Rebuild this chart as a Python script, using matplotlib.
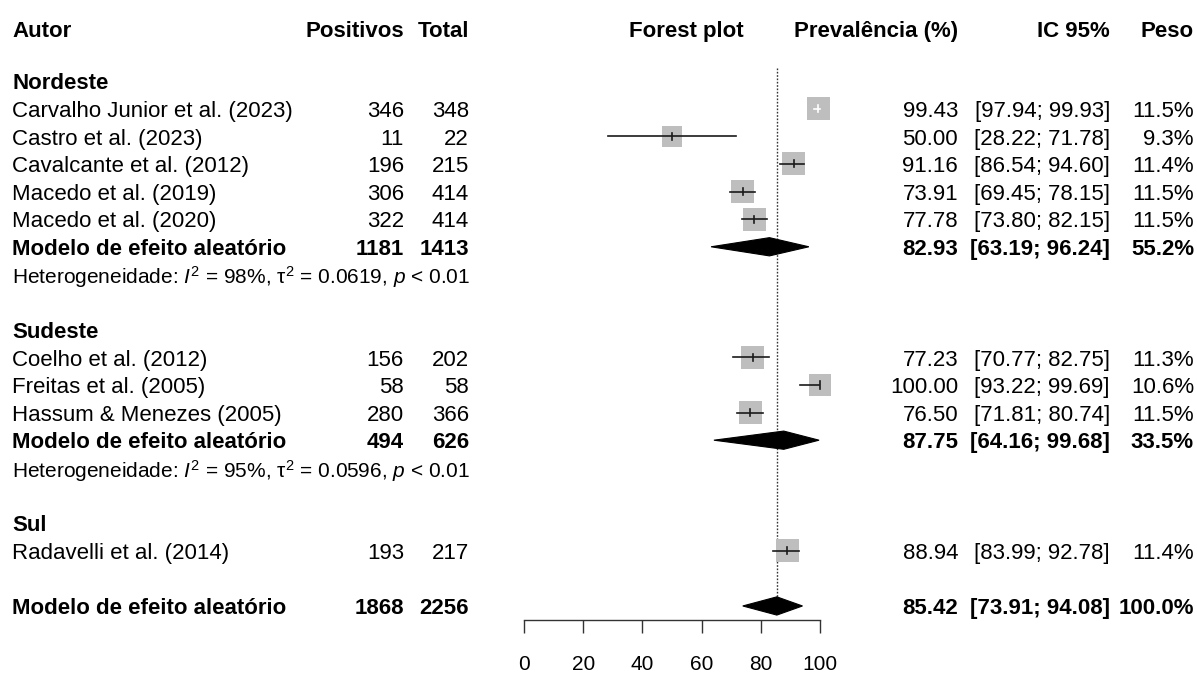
import matplotlib
matplotlib.use("Agg")
import matplotlib.pyplot as plt
import numpy as np
from matplotlib.transforms import blended_transform_factory
from matplotlib.patches import Polygon

plt.rcParams['font.family'] = ['Liberation Sans', 'DejaVu Sans']
plt.rcParams['mathtext.fontset'] = 'custom'
plt.rcParams['mathtext.rm'] = 'Liberation Sans'
plt.rcParams['mathtext.it'] = 'Liberation Sans:italic'
plt.rcParams['mathtext.bf'] = 'Liberation Sans:bold'

# ---------------- data ----------------
groups = ["Nordeste", "Sudeste", "Sul"]
study_group = ["Nordeste"] * 5 + ["Sudeste"] * 3 + ["Sul"]
authors = ["Carvalho Junior et al. (2023)", "Castro et al. (2023)", "Cavalcante et al. (2012)",
           "Macedo et al. (2019)", "Macedo et al. (2020)",
           "Coelho et al. (2012)", "Freitas et al. (2005)", "Hassum & Menezes (2005)",
           "Radavelli et al. (2014)"]
positives = [346, 11, 196, 306, 322, 156, 58, 280, 193]
totals = [348, 22, 215, 414, 414, 202, 58, 366, 217]
prev = [99.43, 50.00, 91.16, 73.91, 77.78, 77.23, 100.00, 76.50, 88.94]
ci_low = [97.94, 28.22, 86.54, 69.45, 73.80, 70.77, 93.22, 71.81, 83.99]
ci_high = [99.93, 71.78, 94.60, 78.15, 82.15, 82.75, 99.69, 80.74, 92.78]
weights = [11.5, 9.3, 11.4, 11.5, 11.5, 11.3, 10.6, 11.5, 11.4]

# pooled per subgroup (only groups with >1 study)
pooled_groups = ["Nordeste", "Sudeste"]
pooled_pos = [1181, 494]
pooled_tot = [1413, 626]
pooled_prev = [82.93, 87.75]
pooled_low = [63.19, 64.16]
pooled_high = [96.24, 99.68]
pooled_w = [55.2, 33.5]
het_I2 = ["98%", "95%"]
het_tau2 = ["0.0619", "0.0596"]
het_p = ["< 0.01", "< 0.01"]

overall_pos = 1868
overall_tot = 2256
overall_prev = 85.42
overall_low = 73.91
overall_high = 94.08
overall_w = "100.0%"

xticks = [0, 20, 40, 60, 80, 100]

# ---------------- figure ----------------
W, H = 1197, 673
fig = plt.figure(figsize=(W / 100, H / 100), dpi=100)
row_px = 27.63
first_px = 81
axis_px = 620
ax = fig.add_axes([524 / W, (H - axis_px) / H, 296 / W, axis_px / H])
ax.set_xlim(0, 100)
ax.set_ylim((axis_px - first_px) / row_px, -first_px / row_px)
for s in ["top", "right", "left"]:
    ax.spines[s].set_visible(False)
ax.spines["bottom"].set_bounds(0, 100)
ax.spines["bottom"].set_linewidth(1.0)
ax.spines["bottom"].set_color("#333333")
ax.set_yticks([])
ax.set_xticks(xticks)
ax.set_xticklabels([str(t) for t in xticks], fontsize=15)
ax.tick_params(axis="x", direction="out", length=9.5, width=1.0, color="#333333", pad=16)
ax.patch.set_alpha(0)

tr = blended_transform_factory(fig.transFigure, ax.transData)
FS = 16
FS_HET = 15
TXT_DY = 0.1


def col(xpx, y, s, ha="right", bold=False, size=FS):
    ax.text(xpx / W, y + TXT_DY, s, transform=tr, ha=ha, va="center", fontsize=size,
            fontweight="bold" if bold else "normal", clip_on=False)


header_y = (29 - first_px) / row_px
col(12, header_y, "Autor", ha="left", bold=True)
col(404, header_y, "Positivos", bold=True)
col(469, header_y, "Total", bold=True)
col(686, header_y, "Forest plot", ha="center", bold=True)
col(958, header_y, "Prevalência (%)", bold=True)
col(1110, header_y, "IC 95%", bold=True)
col(1194, header_y, "Peso", bold=True)

sq_color = "#BEBEBE"
diamond_half = 0.33


def draw_study(i, y):
    col(12, y, authors[i], ha="left")
    col(404, y, str(positives[i]))
    col(469, y, str(totals[i]))
    col(958, y, f"{prev[i]:.2f}")
    col(1110, y, f"[{ci_low[i]:.2f}; {ci_high[i]:.2f}]")
    col(1194, y, f"{weights[i]:.1f}%")
    side_pt = 0.72 * 6.85 * np.sqrt(weights[i])
    ax.scatter([prev[i]], [y], marker="s", s=side_pt ** 2, color=sq_color,
               edgecolors="none", zorder=3, clip_on=False)
    half_side_units = (side_pt / 0.72 / 2) / 2.96
    inside = (ci_low[i] >= prev[i] - half_side_units) and (ci_high[i] <= prev[i] + half_side_units)
    lc = "white" if inside else "#1a1a1a"
    ax.plot([ci_low[i], ci_high[i]], [y, y], color=lc, lw=1.2, zorder=4, clip_on=False)
    ax.plot([prev[i], prev[i]], [y - 0.13, y + 0.13], color=lc, lw=1.2, zorder=4, clip_on=False)


def draw_diamond(est, lo, hi, y):
    poly = Polygon([[lo, y], [est, y - diamond_half], [hi, y], [est, y + diamond_half]],
                   closed=True, facecolor="black", edgecolor="black", lw=0.8, zorder=5)
    ax.add_patch(poly)


y = 0
for g in groups:
    col(12, y, g, ha="left", bold=True)
    y += 1
    for i, sg in enumerate(study_group):
        if sg == g:
            draw_study(i, y)
            y += 1
    if g in pooled_groups:
        k = pooled_groups.index(g)
        col(12, y, "Modelo de efeito aleatório", ha="left", bold=True)
        col(404, y, str(pooled_pos[k]), bold=True)
        col(469, y, str(pooled_tot[k]), bold=True)
        col(958, y, f"{pooled_prev[k]:.2f}", bold=True)
        col(1110, y, f"[{pooled_low[k]:.2f}; {pooled_high[k]:.2f}]", bold=True)
        col(1194, y, f"{pooled_w[k]:.1f}%", bold=True)
        draw_diamond(pooled_prev[k], pooled_low[k], pooled_high[k], y)
        y += 1
        het = (r"Heterogeneidade: $\mathit{I}^{2}$ = " + het_I2[k]
               + r", $\mathrm{\tau}^{2}$ = " + het_tau2[k]
               + r", $\mathit{p}$ " + het_p[k])
        col(12, y, het, ha="left", size=FS_HET)
        y += 1
    y += 1

overall_y = y - 1 + (0 if groups[-1] in pooled_groups else 1)
col(12, overall_y, "Modelo de efeito aleatório", ha="left", bold=True)
col(404, overall_y, str(overall_pos), bold=True)
col(469, overall_y, str(overall_tot), bold=True)
col(958, overall_y, f"{overall_prev:.2f}", bold=True)
col(1110, overall_y, f"[{overall_low:.2f}; {overall_high:.2f}]", bold=True)
col(1194, overall_y, overall_w, bold=True)
draw_diamond(overall_prev, overall_low, overall_high, overall_y)

ax.plot([overall_prev, overall_prev], [-0.47, overall_y], color="#333333", lw=1.0,
        linestyle=(0, (1.2, 1.2)), zorder=1)

fig.savefig("out.png", dpi=100)
